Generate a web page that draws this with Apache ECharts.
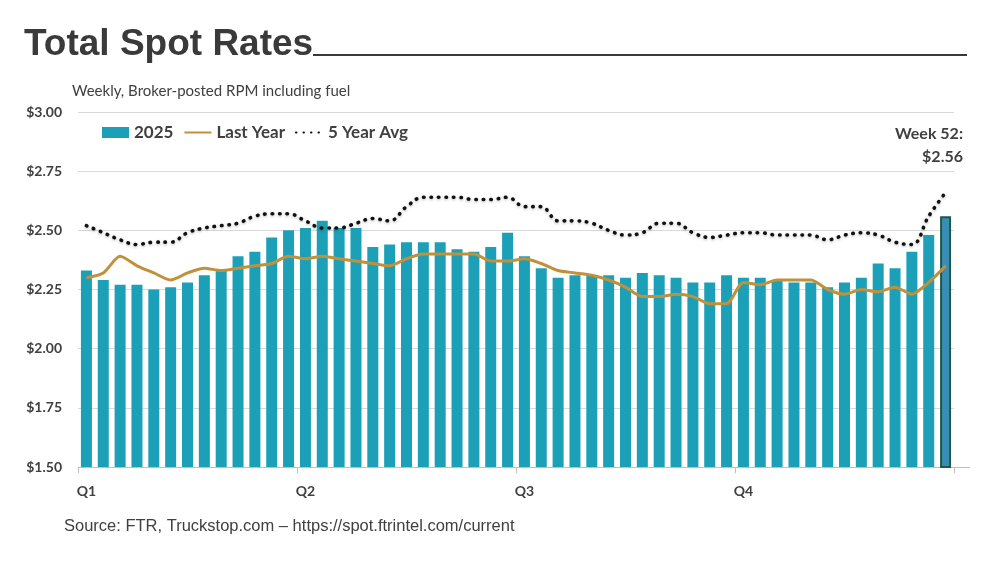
<!DOCTYPE html>
<html>
<head>
<meta charset="utf-8">
<script src="https://cdn.jsdelivr.net/npm/echarts@6/dist/echarts.min.js"></script>
<style>
html,body{margin:0;padding:0;background:#fff;}
#chart{width:997px;height:561px;}
</style>
</head>
<body>
<div id="chart"></div>
<script>
// ---- data ----
var weeks = [];
for (var w = 1; w <= 52; w++) weeks.push('Week ' + w);
var quarterLabels = ['Q1', 'Q2', 'Q3', 'Q4'];
var yTicks = [1.50, 1.75, 2.00, 2.25, 2.50, 2.75, 3.00];

var rates2025 = [2.33,2.29,2.27,2.27,2.25,2.26,2.28,2.31,2.33,2.39,
                 2.41,2.47,2.50,2.51,2.54,2.51,2.51,2.43,2.44,2.45,
                 2.45,2.45,2.42,2.41,2.43,2.49,2.39,2.34,2.30,2.31,
                 2.31,2.31,2.30,2.32,2.31,2.30,2.28,2.28,2.31,2.30,
                 2.30,2.29,2.28,2.28,2.26,2.28,2.30,2.36,2.34,2.41,2.48,2.56];
var lastYear = [2.30,2.32,2.39,2.35,2.32,2.29,2.32,2.34,2.33,2.34,
                2.35,2.36,2.39,2.38,2.39,2.38,2.37,2.36,2.35,2.38,
                2.40,2.40,2.40,2.40,2.37,2.37,2.38,2.36,2.33,2.32,
                2.31,2.29,2.26,2.22,2.22,2.23,2.22,2.19,2.19,2.28,
                2.27,2.29,2.29,2.29,2.25,2.23,2.25,2.24,2.26,2.23,2.28,2.35];
var fiveYearAvg = [2.52,2.49,2.46,2.44,2.45,2.45,2.49,2.51,2.52,2.53,
                   2.56,2.57,2.57,2.54,2.51,2.51,2.53,2.55,2.54,2.60,
                   2.64,2.64,2.64,2.63,2.63,2.64,2.60,2.60,2.54,2.54,
                   2.53,2.50,2.48,2.49,2.53,2.53,2.49,2.47,2.48,2.49,
                   2.49,2.48,2.48,2.48,2.46,2.48,2.49,2.48,2.45,2.44,2.56,2.66];
var annotationText = 'Week 52:\n$2.56';

// ---- chart ----
var chart = echarts.init(document.getElementById('chart'), null, {renderer: 'canvas'});
var FONT = 'Lato, "Open Sans", sans-serif';
var TXT = '#404040';

var barData = rates2025.map(function (v, i) {
  if (i === rates2025.length - 1) {
    return {value: v, itemStyle: {color: '#3A8DB4', borderColor: '#1E5A4C', borderWidth: 2}};
  }
  return v;
});

var option = {
  backgroundColor: '#ffffff',
  animation: false,
  title: {
    text: 'Total Spot Rates',
    left: 19, top: 21,
    textStyle: {fontFamily: 'Liberation Sans, Arial, sans-serif', fontWeight: 'bold', fontSize: 37, color: '#3a3a3a'}
  },
  legend: {
    left: 97, top: 119,
    itemWidth: 27, itemHeight: 11, itemGap: 10,
    textStyle: {fontFamily: FONT, fontWeight: 'bold', fontSize: 17, color: TXT},
    data: [
      {name: '2025', icon: 'rect'},
      {name: 'Last Year', itemStyle: {opacity: 0}},
      {name: '5 Year Avg', itemStyle: {opacity: 0}}
    ]
  },
  grid: {left: 78, right: 43, top: 112, bottom: 94, containLabel: false},
  xAxis: {
    type: 'category',
    data: weeks,
    boundaryGap: true,
    axisLine: {show: true, lineStyle: {color: '#BFBFBF', width: 1}},
    axisTick: {show: true, interval: 12, length: 6, lineStyle: {color: '#BFBFBF'}},
    axisLabel: {
      interval: 12, margin: 17,
      fontFamily: FONT, fontWeight: 'bold', fontSize: 14, color: TXT,
      formatter: function (v, i) { return quarterLabels[Math.round(i / 13)]; }
    },
    splitLine: {show: false}
  },
  yAxis: {
    type: 'value',
    min: yTicks[0], max: yTicks[yTicks.length - 1], interval: 0.25,
    axisLine: {show: false}, axisTick: {show: false},
    axisLabel: {
      margin: 16, fontFamily: FONT, fontWeight: 'bold', fontSize: 14, color: TXT,
      formatter: function (v) { return '$' + v.toFixed(2); }
    },
    splitLine: {lineStyle: {color: '#D9D9D9', width: 1}}
  },
  series: [
    {
      name: '2025', type: 'bar', data: barData,
      barWidth: 11,
      itemStyle: {color: '#1CA0B7'},
      z: 2
    },
    {
      name: 'Last Year', type: 'line', data: lastYear,
      smooth: 0.25, symbol: 'none',
      lineStyle: {color: '#C0913A', width: 3},
      itemStyle: {color: '#C0913A'},
      z: 3
    },
    {
      name: '5 Year Avg', type: 'line', data: fiveYearAvg,
      smooth: 0.4, symbol: 'none',
      lineStyle: {color: '#111111', width: 3.6, type: [0.5, 7], cap: 'round',
        shadowColor: 'rgba(0,0,0,0.3)', shadowBlur: 3, shadowOffsetY: 1},
      itemStyle: {color: '#111111'},
      z: 4
    }
  ],
  graphic: [
    {type: 'line', shape: {x1: 313, y1: 55, x2: 967, y2: 55}, style: {stroke: '#3a3a3a', lineWidth: 2}},
    {type: 'line', shape: {x1: 954, y1: 467.5, x2: 970, y2: 467.5}, style: {stroke: '#BFBFBF', lineWidth: 1}},
    {type: 'text', x: 72, y: 84,
      style: {text: 'Weekly, Broker-posted RPM including fuel', fontFamily: FONT, fontSize: 15, fill: TXT}},
    {type: 'text', x: 963, y: 122,
      style: {text: annotationText, fontFamily: FONT, fontWeight: 'bold', fontSize: 16, fill: TXT, align: 'right', lineHeight: 23}},
    {type: 'text', x: 64, y: 518,
      style: {text: 'Source: FTR, Truckstop.com – https://spot.ftrintel.com/current', fontFamily: 'Liberation Sans, Arial, sans-serif', fontSize: 16.5, fill: TXT}}
  ]
};
chart.setOption(option);
</script>
</body>
</html>
